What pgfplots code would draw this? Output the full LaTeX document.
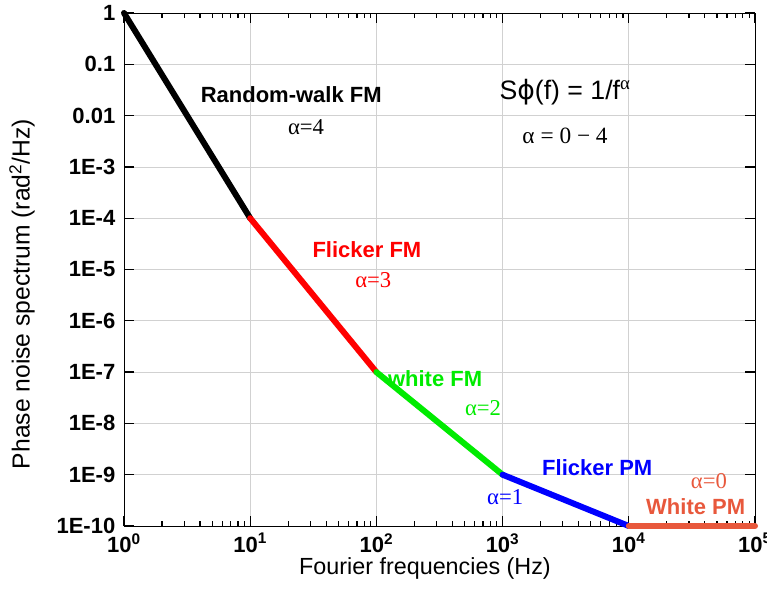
\documentclass[border=0pt]{standalone}
\usepackage{pgfplots}
\pgfplotsset{compat=1.18}
\usepackage{fontspec}
\setmainfont{Liberation Sans}
\newfontfamily\tms{Liberation Serif}
\newfontfamily\djv{DejaVu Sans}
\definecolor{wpm}{RGB}{232,88,60}
\definecolor{gfm}{RGB}{0,235,0}
\begin{document}
\begin{tikzpicture}
\begin{axis}[
  at={(0,0)}, anchor=south west,
  scale only axis, width=473.25pt, height=384.75pt,
  xmode=log, ymode=log,
  xmin=1, xmax=1e5, ymin=1e-10, ymax=1,
  clip=false,
  xtick pos=both, ytick pos=both,
  tickwidth=7.5pt, subtickwidth=3.75pt,
  every tick/.style={draw=black, line width=1pt},
  xmajorgrids, ymajorgrids, major grid style={line width=0.6pt, color=black!18},
  xtick={1,10,100,1000,10000,100000},
  xticklabels={10\textsuperscript{0},10\textsuperscript{1},10\textsuperscript{2},10\textsuperscript{3},10\textsuperscript{4},10\textsuperscript{5}},
  ytick={1,0.1,0.01,1e-3,1e-4,1e-5,1e-6,1e-7,1e-8,1e-9,1e-10},
  yticklabels={1,0.1,0.01,1E-3,1E-4,1E-5,1E-6,1E-7,1E-8,1E-9,1E-10},
  tick label style={font=\fontsize{16.5}{18}\selectfont\bfseries},
  xticklabel style={yshift=-2pt},
  yticklabel style={xshift=-3pt},
]
\addplot[black, line width=4.5pt, line cap=round] coordinates {(1,1) (10,1e-4)};
\addplot[red, line width=4.5pt, line cap=round] coordinates {(10,1e-4) (100,1e-7)};
\addplot[gfm, line width=4.5pt, line cap=round] coordinates {(100,1e-7) (1000,1e-9)};
\addplot[blue, line width=4.5pt, line cap=round] coordinates {(1000,1e-9) (10000,1e-10)};
\addplot[wpm, line width=4.5pt, line cap=round] coordinates {(10000,1e-10) (100000,1e-10)};

\node[font=\fontsize{16.5}{18}\selectfont\bfseries] at (rel axis cs:0.265,0.840) {Random-walk FM};
\node[font=\fontsize{17}{19}\selectfont\tms] at (rel axis cs:0.2885,0.778) {α=4};
\node[font=\fontsize{20}{22}\selectfont] at (rel axis cs:0.699,0.846) {S{\djv ϕ}(f) = 1/f\textsuperscript{\tms α}};
\node[font=\fontsize{17.5}{19}\selectfont\tms] at (rel axis cs:0.699,0.760) {α = 0 − 4};
\node[red, font=\fontsize{16.5}{18}\selectfont\bfseries] at (rel axis cs:0.385,0.538) {Flicker FM};
\node[red, font=\fontsize{17}{19}\selectfont\tms] at (rel axis cs:0.395,0.480) {α=3};
\node[gfm, font=\fontsize{16.5}{18}\selectfont\bfseries] at (rel axis cs:0.493,0.287) {white FM};
\node[gfm, font=\fontsize{17}{19}\selectfont\tms] at (rel axis cs:0.569,0.230) {α=2};
\node[blue, font=\fontsize{16.5}{18}\selectfont\bfseries] at (rel axis cs:0.750,0.113) {Flicker PM};
\node[blue, font=\fontsize{17}{19}\selectfont\tms] at (rel axis cs:0.604,0.0565) {α=1};
\node[wpm, font=\fontsize{17}{19}\selectfont\tms] at (rel axis cs:0.927,0.0877) {α=0};
\node[wpm, font=\fontsize{16.5}{18}\selectfont\bfseries] at (rel axis cs:0.906,0.037) {White PM};
\end{axis}
\node[font=\fontsize{17.5}{19}\selectfont] at (225.75pt,-31.5pt) {Fourier frequencies (Hz)};
\node[rotate=90, font=\fontsize{18.5}{20}\selectfont] at (-76.5pt,174pt) {Phase noise spectrum (rad\textsuperscript{2}/Hz)};
\pgfresetboundingbox
\useasboundingbox (-93pt,-66pt) rectangle (482.25pt,394.5pt);
\end{tikzpicture}
\end{document}
